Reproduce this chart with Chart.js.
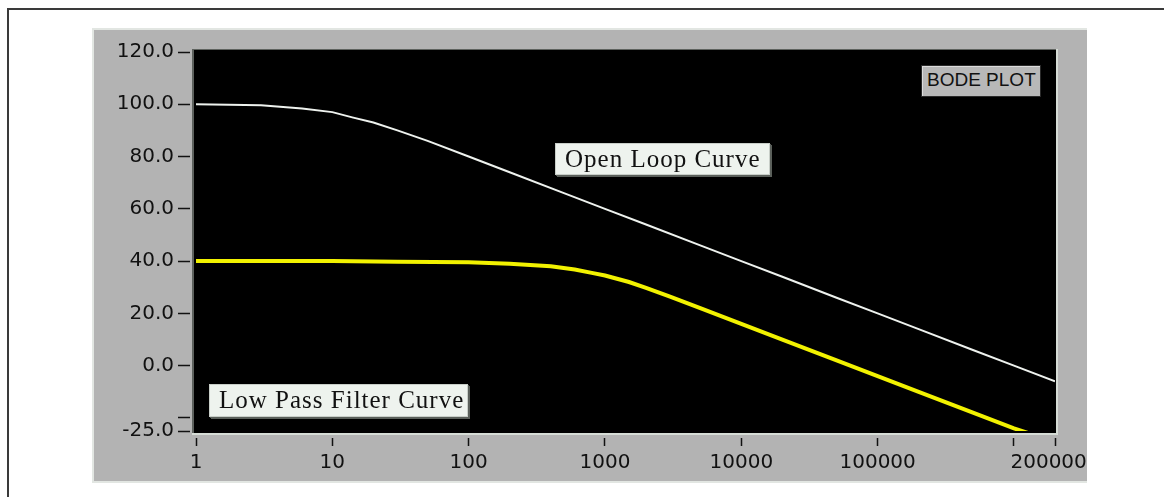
<!DOCTYPE html>
<html lang="en">
<head>
<meta charset="utf-8">
<title>Bode Plot</title>
<script src="https://cdn.jsdelivr.net/npm/chart.js@4.4.1/dist/chart.umd.min.js"></script>
<style>
    html, body { margin: 0; padding: 0; background: #ffffff; width: 1164px; height: 497px; overflow: hidden; }
    .frame { position: absolute; left: 7px; top: 8px; width: 1200px; height: 600px; border-top: 2px solid #3a3a3a; border-left: 2px solid #3a3a3a; }
    .panel { position: absolute; left: 92px; top: 28px; width: 995px; height: 455px; background: #b3b3b3; overflow: hidden;
             box-shadow: inset 2px 2px 0 #e2e6e2, inset 0 -2px 0 #e2e6e2; }
    .panel canvas { position: absolute; left: 0; top: 0; }
    .tag { position: absolute; box-sizing: border-box; white-space: nowrap; }
    .serif { font-family: "Liberation Serif", "DejaVu Serif", serif; font-size: 25px; letter-spacing: 1px; color: #111; background: #eef3ee;
             border: 1px solid #c8cec8; box-shadow: 1px 1px 0 #5a5f5a, 2px 2px 0 #5a5f5a; padding: 0 0 0 9px; line-height: 30px; }
    .bode { font-family: "Liberation Sans", Arial, sans-serif; font-size: 19px; color: #111; background: #b8b8b8;
            border: 1px solid #2a2a2a; box-shadow: inset 1px 1px 0 #dcdcdc; padding: 3px 0 0 5px; }
</style>
</head>
<body>
<div class="frame"></div>
<div class="panel">
    <canvas id="bodeChart" width="1030" height="455"></canvas>
    <div class="tag bode" style="left: 829px; top: 37px; width: 120px; height: 32px;">BODE PLOT</div>
    <div class="tag serif" style="left: 463px; top: 115px; width: 215px; height: 32px;">Open Loop Curve</div>
    <div class="tag serif" style="left: 117px; top: 356px; width: 259px; height: 33px;">Low Pass Filter Curve</div>
</div>
<script>
"use strict";

// frequency in Hz, gain in dB
const openLoopFreq = [1, 3, 6, 10, 14, 20, 30, 50, 100, 200, 500, 1000, 2000, 5000, 10000, 20000, 50000, 100000, 200000, 500000, 1000000, 2000000];
const openLoopGain = [100, 99.6, 98.4, 97, 95, 93, 90, 86, 80, 74, 66, 60, 54, 46, 40, 34, 26, 20, 14, 6, 0, -6];

const lowPassFreq = [1, 10, 30, 100, 200, 400, 600, 800, 1000, 1500, 2000, 3000, 5000, 10000, 20000, 50000, 100000, 200000, 500000, 1000000, 1500000];
const lowPassGain = [40, 40, 39.8, 39.6, 39, 38, 36.8, 35.5, 34.5, 32, 29.8, 26.4, 22, 16, 10, 2, -4, -10, -18, -24, -27];

const xTickValues = [1, 10, 100, 1000, 10000, 100000, 1000000, 2000000];
const xTickLabels = ["1", "10", "100", "1000", "10000", "100000", "", "2000000"];
const yTickValues = [-25, -20, 0, 20, 40, 60, 80, 100, 120];
const yTickLabels = ["-25.0", "", "0.0", "20.0", "40.0", "60.0", "80.0", "100.0", "120.0"];

const toPoints = (xs, ys) => xs.map((x, i) => ({ x: x, y: ys[i] }));

// black plot window with bevelled edges behind the curves
const plotWindow = {
    id: "plotWindow",
    beforeDatasetsDraw(chart) {
        const { ctx, chartArea: a } = chart;
        const left = a.left - 4, top = a.top - 3, right = a.right + 3, bottom = a.bottom + 2;
        ctx.save();
        ctx.fillStyle = "#000000";
        ctx.fillRect(left, top, right - left, bottom - top);
        ctx.fillStyle = "#5e625e";
        ctx.fillRect(left, top, 2, bottom - top);
        ctx.fillRect(left, top, right - left, 1);
        ctx.fillStyle = "#d6dcd6";
        ctx.fillRect(right - 2, top, 2, bottom - top + 2);
        ctx.fillRect(left, bottom, right - left, 2);
        ctx.restore();
    }
};

const tickFont = { family: "'DejaVu Sans', sans-serif", size: 20 };

new Chart(document.getElementById("bodeChart"), {
    type: "line",
    data: {
        datasets: [
            { label: "Open Loop Curve", data: toPoints(openLoopFreq, openLoopGain), borderColor: "#eef2ee", borderWidth: 2, pointRadius: 0, tension: 0 },
            { label: "Low Pass Filter Curve", data: toPoints(lowPassFreq, lowPassGain), borderColor: "#f2f200", borderWidth: 4, pointRadius: 0, tension: 0 }
        ]
    },
    options: {
        responsive: false,
        animation: false,
        events: [],
        layout: { padding: { top: 24, right: 67, left: 0, bottom: 0 } },
        plugins: { legend: { display: false }, tooltip: { enabled: false } },
        scales: {
            x: {
                type: "logarithmic",
                min: 1,
                max: 2000000,
                afterBuildTicks: scale => { scale.ticks = xTickValues.map(v => ({ value: v })); },
                afterFit: scale => { scale.height = 52; },
                border: { display: false },
                grid: { drawOnChartArea: false, color: "#111", tickLength: 15, tickWidth: 1.5, tickBorderDash: [0, 7, 8, 40] },
                ticks: {
                    autoSkip: false, maxRotation: 0, minRotation: 0, padding: 5,
                    color: "#111", font: tickFont,
                    callback: (value, index) => xTickLabels[index]
                }
            },
            y: {
                min: -25,
                max: 120,
                afterBuildTicks: scale => { scale.ticks = yTickValues.map(v => ({ value: v })); },
                afterFit: scale => { scale.width = 104; },
                border: { display: false },
                grid: { drawOnChartArea: false, color: "#111", tickLength: 18, tickWidth: 1.5, tickBorderDash: [12, 40] },
                ticks: {
                    autoSkip: false, padding: 4,
                    color: "#111", font: tickFont,
                    callback: (value, index) => yTickLabels[index]
                }
            }
        }
    },
    plugins: [plotWindow]
});
</script>
</body>
</html>
